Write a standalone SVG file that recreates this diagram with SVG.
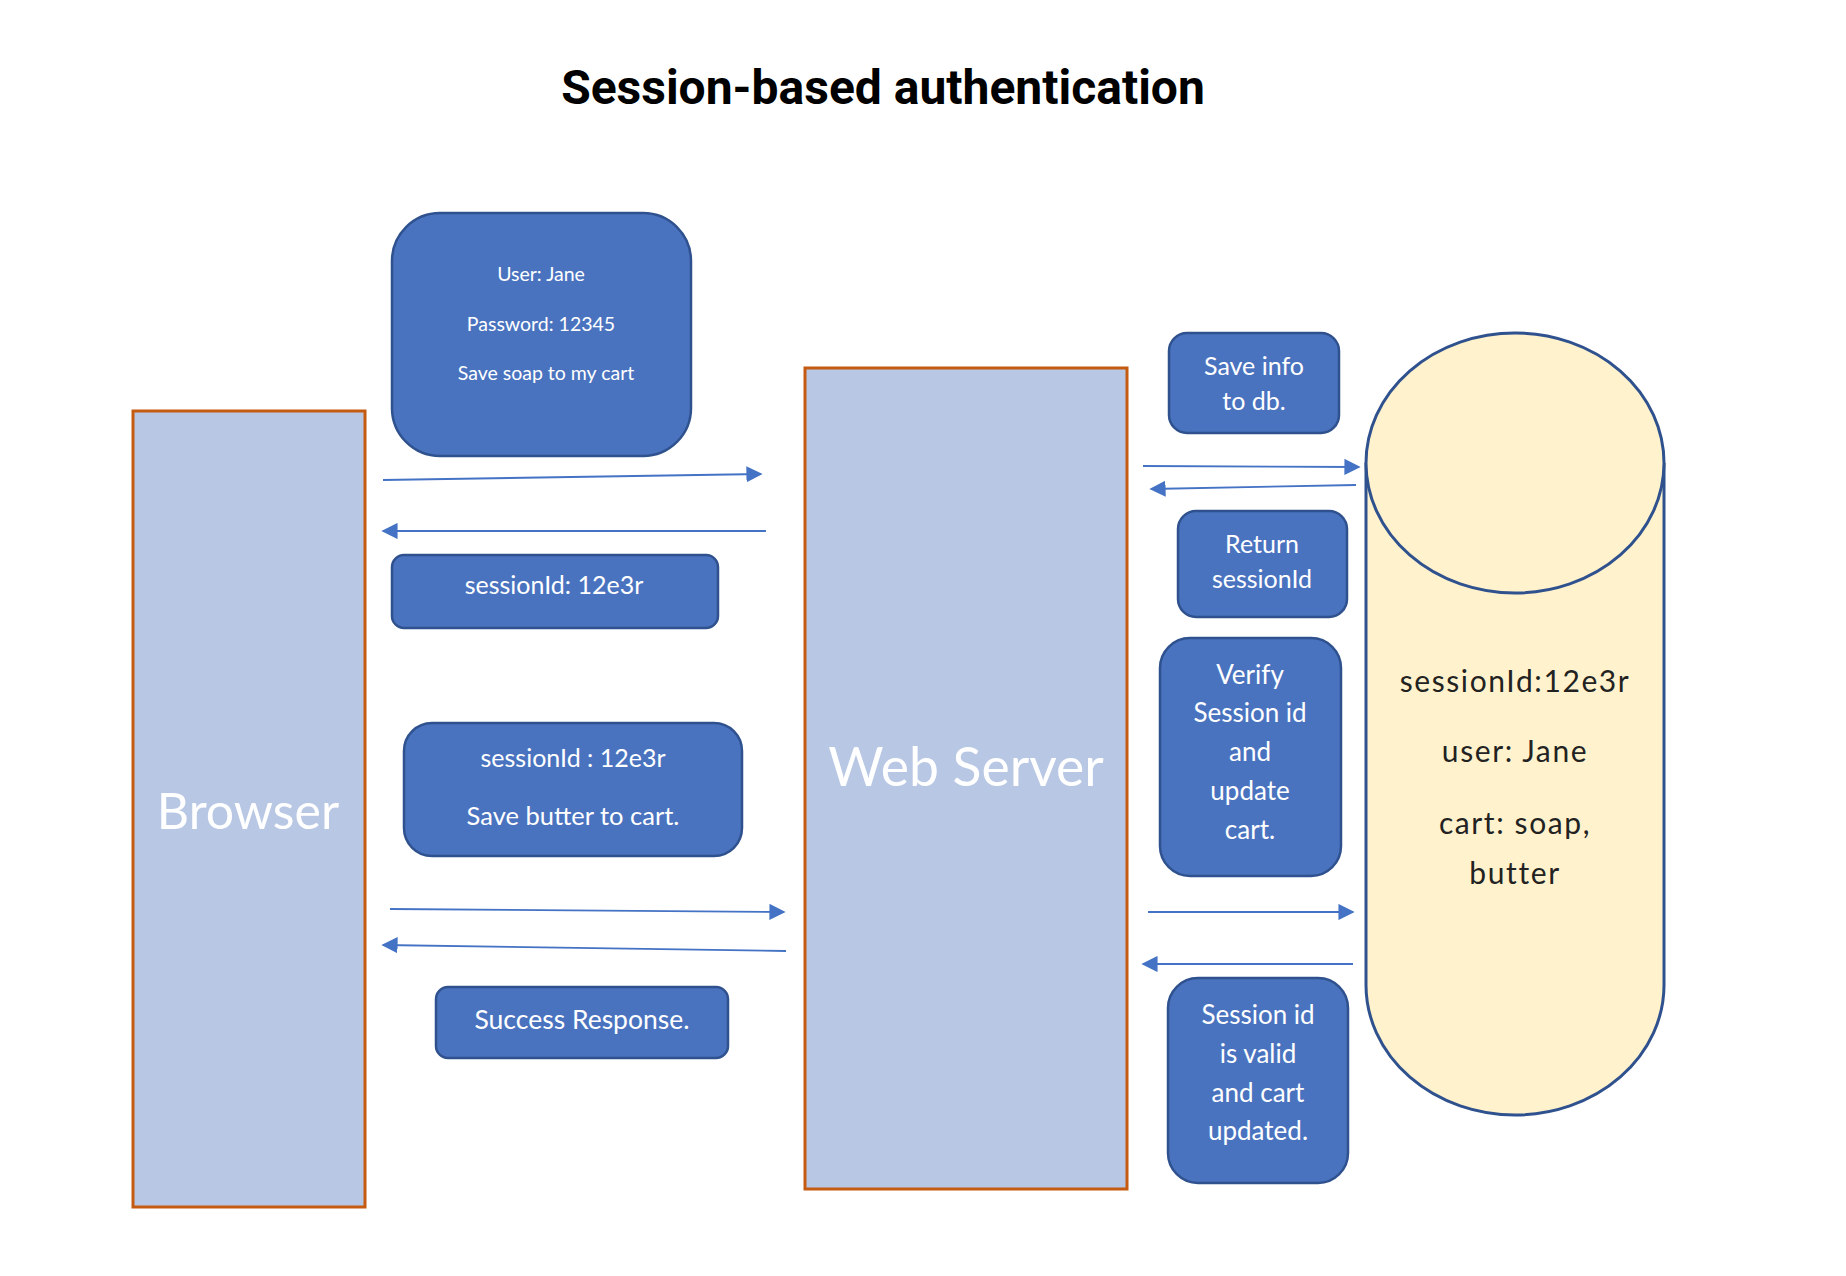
<svg xmlns="http://www.w3.org/2000/svg" width="1846" height="1276" viewBox="0 0 1846 1276">
<defs>
<marker id="ah" viewBox="0 0 10 10" refX="9" refY="5" markerWidth="9" markerHeight="9" markerUnits="strokeWidth" orient="auto" preserveAspectRatio="none">
<path d="M0,0 L10,5 L0,10 z" fill="#4472C4"/>
</marker>
<style>
.title{font-family:Roboto,"Liberation Sans",sans-serif;font-weight:bold;font-size:48px;fill:#000;text-anchor:middle}
.actor{fill:#B8C7E4;stroke:#C55A11;stroke-width:3}
.actorT{font-family:Lato,"Open Sans",sans-serif;fill:#fff;text-anchor:middle}
.box{fill:#4A73BF;stroke:#2F528F;stroke-width:2.5}
.bt{font-family:Lato,"Open Sans",sans-serif;fill:#fff;text-anchor:middle}
.db{fill:#FFF2CC;stroke:#2F528F;stroke-width:3}
.dbt{font-family:Lato,"Open Sans",sans-serif;font-size:30px;fill:#222;text-anchor:middle;letter-spacing:1.6px}
.c{stroke:#4472C4;stroke-width:1.8;fill:none;marker-end:url(#ah)}
</style>
</defs>
<rect width="1846" height="1276" fill="#fff"/>
<text class="title" x="883" y="104">Session-based authentication</text>

<g id="browser">
<rect class="actor" x="133" y="411" width="232" height="796"/>
<text class="actorT" font-size="50" x="248" y="829">Browser</text>
</g>
<g id="webserver">
<rect class="actor" x="805" y="368" width="322" height="821"/>
<text class="actorT" font-size="53.5" x="966" y="786">Web Server</text>
</g>
<g id="database">
<path class="db" d="M1366,463 L1366,985 A149,130 0 0 0 1664,985 L1664,463"/>
<ellipse class="db" cx="1515" cy="463" rx="149" ry="130"/>
<text class="dbt" x="1515" y="692">sessionId:12e3r</text>
<text class="dbt" x="1515" y="762">user: Jane</text>
<text class="dbt" x="1515" y="834">cart: soap,</text>
<text class="dbt" x="1515" y="884">butter</text>
</g>

<g id="login">
<rect class="box" x="392" y="213" width="299" height="243" rx="48"/>
<text class="bt" font-size="19.5" x="541" y="281">User: Jane</text>
<text class="bt" font-size="19.5" x="541" y="331">Password: 12345</text>
<text class="bt" font-size="19.5" x="546" y="380">Save soap to my cart</text>
</g>
<g id="sessionResp">
<rect class="box" x="392" y="555" width="326" height="73" rx="12"/>
<text class="bt" font-size="25" x="554" y="594">sessionId: 12e3r</text>
</g>
<g id="butterReq">
<rect class="box" x="404" y="723" width="338" height="133" rx="28"/>
<text class="bt" font-size="25" x="573" y="767">sessionId : 12e3r</text>
<text class="bt" font-size="25.5" x="573" y="825">Save butter to cart.</text>
</g>
<g id="success">
<rect class="box" x="436" y="987" width="292" height="71" rx="12"/>
<text class="bt" font-size="26.5" x="582" y="1029">Success Response.</text>
</g>
<g id="saveInfo">
<rect class="box" x="1169" y="333" width="170" height="100" rx="18"/>
<text class="bt" font-size="25" x="1254" y="375">Save info</text>
<text class="bt" font-size="25" x="1254" y="410">to db.</text>
</g>
<g id="returnSession">
<rect class="box" x="1178" y="511" width="169" height="106" rx="18"/>
<text class="bt" font-size="25" x="1262" y="553">Return</text>
<text class="bt" font-size="25" x="1262" y="588">sessionId</text>
</g>
<g id="verify">
<rect class="box" x="1160" y="638" width="181" height="238" rx="30"/>
<text class="bt" font-size="26" x="1250" y="684">Verify</text>
<text class="bt" font-size="26" x="1250" y="722">Session id</text>
<text class="bt" font-size="26" x="1250" y="761">and</text>
<text class="bt" font-size="26" x="1250" y="800">update</text>
<text class="bt" font-size="26" x="1250" y="839">cart.</text>
</g>
<g id="valid">
<rect class="box" x="1168" y="978" width="180" height="205" rx="30"/>
<text class="bt" font-size="26" x="1258" y="1024">Session id</text>
<text class="bt" font-size="26" x="1258" y="1063">is valid</text>
<text class="bt" font-size="26" x="1258" y="1102">and cart</text>
<text class="bt" font-size="26" x="1258" y="1140">updated.</text>
</g>

<g id="connectors">
<line class="c" x1="383" y1="480" x2="761" y2="474"/>
<line class="c" x1="766" y1="531" x2="383" y2="531"/>
<line class="c" x1="390" y1="909" x2="784" y2="912"/>
<line class="c" x1="786" y1="951" x2="383" y2="945"/>
<line class="c" x1="1143" y1="466" x2="1359" y2="467"/>
<line class="c" x1="1356" y1="485" x2="1151" y2="489"/>
<line class="c" x1="1148" y1="912" x2="1353" y2="912"/>
<line class="c" x1="1353" y1="964" x2="1143" y2="964"/>
</g>
</svg>
